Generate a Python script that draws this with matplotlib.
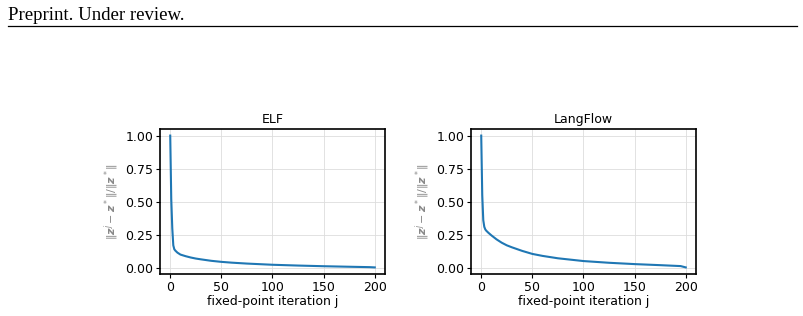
import matplotlib
matplotlib.use("Agg")
import matplotlib.pyplot as plt

# iteration indices and relative residual
iters = [0, 1, 2, 3, 4, 5, 7, 10, 15, 20, 25, 30, 40, 50, 60, 75, 100, 125, 150, 175, 195, 200]
elf = [1.0, 0.52, 0.30, 0.17, 0.14, 0.13, 0.115, 0.10, 0.088, 0.078, 0.070, 0.064, 0.053, 0.045,
       0.039, 0.032, 0.023, 0.017, 0.012, 0.008, 0.005, 0.003]
langflow = [1.0, 0.55, 0.36, 0.31, 0.29, 0.28, 0.265, 0.245, 0.215, 0.19, 0.17, 0.155, 0.128, 0.105,
            0.09, 0.072, 0.051, 0.038, 0.028, 0.02, 0.013, 0.003]

titles = ["ELF", "LangFlow"]
series = [elf, langflow]

fig = plt.figure(figsize=(8.04, 3.16), dpi=100)

fig.text(8 / 804, 1 - 19.5 / 316, "Preprint. Under review.", family="Liberation Serif",
         fontsize=13.5, ha="left", va="baseline")
fig.add_artist(plt.Line2D([8 / 804, 797 / 804], [1 - 25.5 / 316, 1 - 25.5 / 316],
                          color="black", linewidth=0.9))

ylab = r"$\|\boldsymbol{z}^j - \boldsymbol{z}^*\| / \|\boldsymbol{z}^*\|$"
lefts = [160 / 804, 471 / 804]
for left, title, vals in zip(lefts, titles, series):
    ax = fig.add_axes([left, 1 - 274 / 316, 225 / 804, 145 / 316])
    ax.plot(iters, vals, color="#1f77b4", linewidth=1.5)
    ax.set_title(title, fontsize=9, pad=4)
    ax.set_xlabel("fixed-point iteration j", fontsize=9, labelpad=1)
    ax.set_ylabel(ylab, fontsize=8, color="#888888", labelpad=3)
    ax.set_xticks([0, 50, 100, 150, 200])
    ax.set_yticks([0.0, 0.25, 0.5, 0.75, 1.0])
    ax.tick_params(labelsize=9, length=3, pad=2)
    ax.grid(True, color="#dddddd", linewidth=0.6)
    for s in ax.spines.values():
        s.set_linewidth(1.2)

fig.savefig("out.png", dpi=100)
